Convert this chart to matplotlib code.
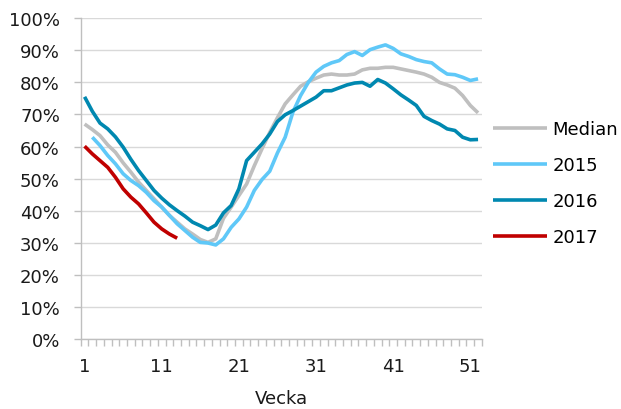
import numpy as np
import matplotlib
matplotlib.use("Agg")
import matplotlib.pyplot as plt
from matplotlib.ticker import FixedLocator, PercentFormatter

# weekly values in percent
weeks = np.arange(1, 53)

median = [67, 65.3, 63.4, 60.5, 58.2, 54.9, 52, 48.9, 46.3, 43.7,
          41.1, 38.5, 36.4, 34.3, 32.7, 31, 30.1, 31.2, 37.6, 41.1,
          44.7, 48.3, 54, 59.3, 64.4, 69, 73.3, 76.1, 78.8, 80.2,
          81.3, 82.3, 82.6, 82.3, 82.3, 82.6, 83.9, 84.4, 84.4, 84.7,
          84.7, 84.2, 83.7, 83.2, 82.6, 81.6, 80, 79.2, 78.2, 75.9,
          72.8, 70.5]

y2015 = [np.nan, 62.9, 60.3, 57.2, 54.6, 51.5, 49.4, 47.8, 45.7, 43.1,
         41.1, 38.5, 35.9, 33.8, 31.7, 30.1, 29.9, 29.3, 31.2, 34.8,
         37.4, 41.1, 46.3, 49.7, 52.3, 58, 62.9, 70.7, 75.9, 80,
         83.2, 85, 86.1, 86.8, 88.7, 89.6, 88.4, 90.2, 91, 91.7,
         90.6, 88.9, 88.1, 87.1, 86.5, 86.1, 84.2, 82.6, 82.4, 81.6,
         80.6, 81.1]

y2016 = [75.5, 71, 67.3, 65.5, 63, 59.8, 56, 52.5, 49.4, 46.3,
         43.9, 41.8, 40, 38.3, 36.4, 35.3, 34.1, 35.5, 39.3, 41.6,
         46.8, 55.6, 58.2, 60.8, 63.9, 67.8, 69.9, 71.2, 72.6, 74,
         75.4, 77.4, 77.4, 78.3, 79.2, 79.8, 80, 78.8, 80.9, 79.8,
         78, 76.1, 74.5, 72.8, 69.4, 68.1, 67, 65.5, 65, 62.9,
         62.1, 62.2]

y2017 = [60.1, 57.7, 55.6, 53.5, 50.4, 46.8, 44.2, 42.1, 39.3, 36.4,
         34.3, 32.7, 31.4]

labels = ["Median", "2015", "2016", "2017"]
colors = ["#BFBFBF", "#5FC8F8", "#0088B0", "#C00000"]

plt.rcParams['font.family'] = ['DejaVu Sans']
fig = plt.figure(figsize=(6.21, 4.10), dpi=100)
ax = fig.add_axes([0.130, 0.171, 0.646, 0.782])

series = [median, y2015, y2016, y2017]
for vals, lab, col in zip(series, labels, colors):
    ax.plot(weeks[:len(vals)], vals, color=col, lw=2.6, label=lab,
            solid_joinstyle='round', solid_capstyle='butt')

ax.set_xlim(0.5, 52.5)
ax.set_ylim(0, 100)
ax.set_yticks(np.arange(0, 101, 10))
ax.yaxis.set_major_formatter(PercentFormatter(decimals=0))
ax.set_xticks([1, 11, 21, 31, 41, 51])
ax.xaxis.set_minor_locator(FixedLocator(np.arange(0.5, 53, 1)))

ax.grid(axis='y', color='#D9D9D9', lw=1.0)
ax.set_axisbelow(True)
for s in ['top', 'right']:
    ax.spines[s].set_visible(False)
for s in ['left', 'bottom']:
    ax.spines[s].set_color('#BFBFBF')
    ax.spines[s].set_linewidth(1.0)

ax.tick_params(axis='y', length=5, width=1, color='#BFBFBF', pad=10,
               labelsize=13, labelcolor='#1a1a1a')
ax.tick_params(axis='x', which='major', length=0, pad=13,
               labelsize=13, labelcolor='#1a1a1a')
ax.tick_params(axis='x', which='minor', length=5, width=1, color='#BFBFBF')

ax.set_xlabel("Vecka", fontsize=13, color='#1a1a1a', labelpad=10)

fig.legend(loc='center left', bbox_to_anchor=(493 / 621, 0.551),
           frameon=False, fontsize=13, handlelength=3.0, handletextpad=0.3,
           labelspacing=1.0, borderpad=0, borderaxespad=0)

fig.savefig("out.png", dpi=100)
